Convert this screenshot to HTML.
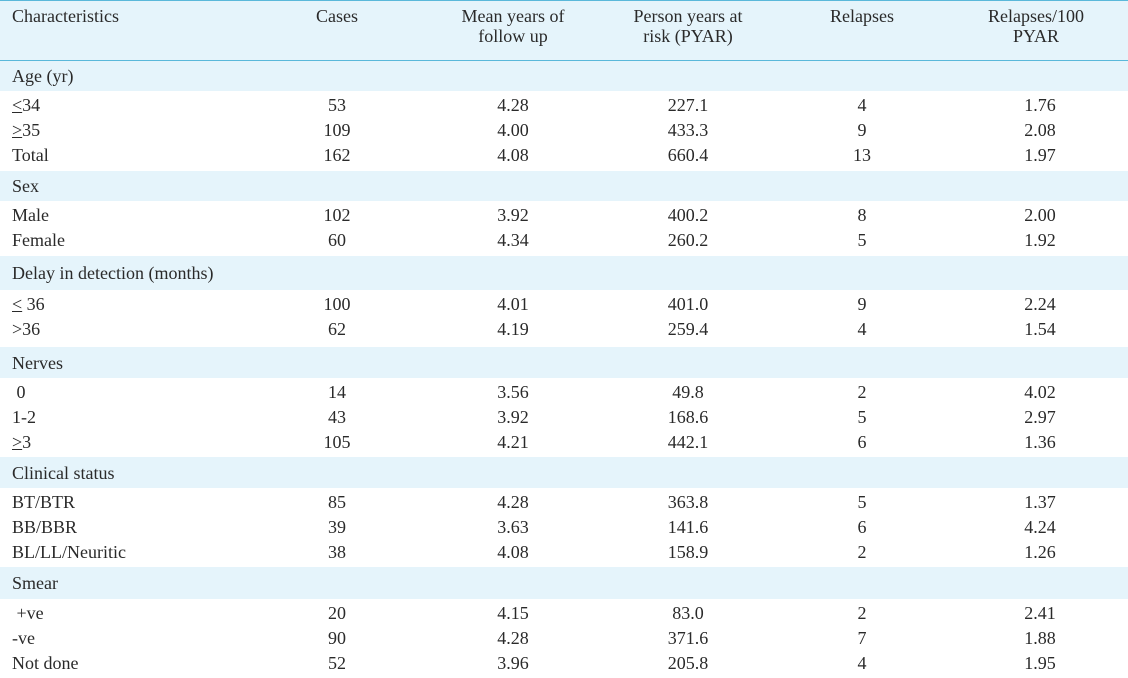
<!DOCTYPE html>
<html><head><meta charset="utf-8"><style>
body{margin:0;width:1128px;height:678px;overflow:hidden;background:#fff;font-family:"Liberation Serif",serif;font-size:18px;color:#2a2a2a;position:relative}
.band{position:absolute;left:0;width:1128px;background:#e5f4fb}
.t{position:absolute;white-space:nowrap;line-height:20px}
.c{transform:translateX(-50%);text-align:center}
.line{position:absolute;left:0;width:1128px;height:1px;background:#5ab8da}
</style></head><body>
<div class="band" style="top:0;height:60px"></div>
<div class="line" style="top:0"></div>
<div class="line" style="top:60px"></div>
<div class="t" style="left:12px;top:6px">Characteristics</div>
<div class="t c" style="left:337px;top:6px">Cases</div>
<div class="t c" style="left:513px;top:6px">Mean years of<br>follow up</div>
<div class="t c" style="left:688px;top:6px">Person years at<br>risk (PYAR)</div>
<div class="t c" style="left:862px;top:6px">Relapses</div>
<div class="t c" style="left:1036px;top:6px">Relapses/100<br>PYAR</div>
<div id="body"></div>
<script>
const sections=[
 ["Age (yr)",61,30,[["<u>&lt;</u>34","53","4.28","227.1","4","1.76"],["<u>&gt;</u>35","109","4.00","433.3","9","2.08"],["Total","162","4.08","660.4","13","1.97"]]],
 ["Sex",171,30,[["Male","102","3.92","400.2","8","2.00"],["Female","60","4.34","260.2","5","1.92"]]],
 ["Delay in detection (months)",256,34,[[" <u>&lt;</u> 36","100","4.01","401.0","9","2.24"],["&gt;36","62","4.19","259.4","4","1.54"]]],
 ["Nerves",347,31,[["&nbsp;0","14","3.56","49.8","2","4.02"],["1-2","43","3.92","168.6","5","2.97"],["<u>&gt;</u>3","105","4.21","442.1","6","1.36"]]],
 ["Clinical status",457,31,[["BT/BTR","85","4.28","363.8","5","1.37"],["BB/BBR","39","3.63","141.6","6","4.24"],["BL/LL/Neuritic","38","4.08","158.9","2","1.26"]]],
 ["Smear",567,32,[["&nbsp;+ve","20","4.15","83.0","2","2.41"],["-ve","90","4.28","371.6","7","1.88"],["Not done","52","3.96","205.8","4","1.95"]]]
];
const cols=[337,513,688,862,1040];
const root=document.getElementById('body');
sections.forEach(s=>{
 const b=document.createElement('div');b.className='band';
 
 
 b.style.top=s[1]+'px';b.style.height=s[2]+'px';root.appendChild(b);
 const h=document.createElement('div');h.className='t';
 
 
 h.style.left='12px';h.style.top=(s[1]+s[2]/2-10)+'px';h.innerHTML=s[0];root.appendChild(h);
 let y=s[1]+s[2]+4;
 s[3].forEach(r=>{
  const l=document.createElement('div');l.className='t';
  
  
  l.style.left='12px';l.style.top=y+'px';l.innerHTML=r[0];root.appendChild(l);
  for(let i=1;i<6;i++){
   const d=document.createElement('div');d.className='t c';
   
   
   d.style.left=cols[i-1]+'px';d.style.top=y+'px';d.textContent=r[i];root.appendChild(d);
  }
  y+=25;
 });
});
</script>
</body></html>
